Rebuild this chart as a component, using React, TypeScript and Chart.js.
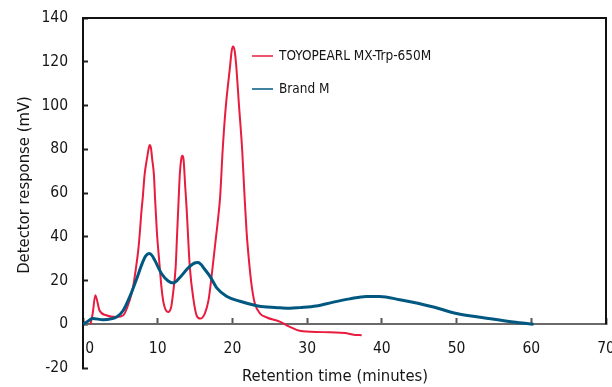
import React, { useEffect, useRef } from "react";
import { Chart, registerables } from "chart.js";

Chart.register(...registerables);

// ---- data ----
const X_TICKS = [0, 10, 20, 30, 40, 50, 60, 70];
const Y_TICKS = [-20, 0, 20, 40, 60, 80, 100, 120, 140];
const SERIES_NAMES = ["TOYOPEARL MX-Trp-650M", "Brand M"];
const X_TITLE = "Retention time (minutes)";
const Y_TITLE = "Detector response (mV)";

const toyoTime = [1.0, 1.3, 1.65, 2.2, 3.1, 4.5, 5.4, 6.25, 6.7, 7.1, 7.4, 7.6, 7.8, 8.0, 8.25, 8.6, 8.8, 8.93, 9.1, 9.25, 9.5, 9.65, 9.9, 10.2, 10.5, 10.8, 11.4, 11.8, 12.05, 12.4, 12.6, 12.8, 12.95, 13.15, 13.3, 13.45, 13.7, 13.85, 14.3, 14.8, 15.2, 15.7, 16.3, 16.8, 17.2, 17.7, 18.1, 18.35, 18.7, 19.1, 19.7, 19.9, 20.08, 20.3, 20.5, 20.9, 21.3, 21.6, 21.9, 22.3, 22.6, 23.0, 23.7, 24.6, 26.4, 27.7, 29, 32, 35.6, 36.2, 37.3];
const toyoSignal = [0, 5, 13.3, 6.4, 4.1, 3.3, 4.1, 11, 17, 26, 34, 41.6, 50.7, 58, 68.5, 76.5, 80.5, 82, 80.5, 75.8, 68, 57, 41.6, 29, 17, 9.5, 5.6, 7.9, 14, 26, 41.6, 57, 68, 75.5, 77, 75.5, 62, 54, 26, 11, 4.1, 2.6, 4.9, 11, 21.6, 36.8, 49, 58, 80, 99, 118.5, 125, 127, 125, 118.5, 99, 80, 60, 42, 26, 17, 9.5, 4.9, 3.1, 1.1, -1.2, -3, -3.6, -4.3, -4.8, -5];

const brandTime = [0, 0.5, 1.3, 2.7, 4.5, 5.4, 6.25, 7.1, 8.0, 8.4, 8.85, 9.2, 9.6, 10.5, 11.4, 12.1, 13, 14, 14.7, 15.05, 15.4, 15.8, 16.2, 17, 17.9, 19.2, 21, 23.25, 24.6, 26.4, 27.7, 29, 31.2, 33.5, 35.7, 37.9, 39.7, 42.4, 46.9, 50, 53.6, 57.6, 60.3];
const brandSignal = [0, 1, 2.6, 2.1, 3.3, 6.4, 12.5, 20, 28.5, 31.3, 32.3, 31.6, 29.3, 23.2, 19.8, 18.9, 21.5, 25.5, 27.5, 28.1, 28.2, 27.3, 25.5, 21.9, 16.6, 12.8, 10.5, 8.5, 7.9, 7.5, 7.3, 7.6, 8.3, 10.1, 11.6, 12.7, 12.7, 11.2, 7.9, 4.9, 3.0, 1, 0];

const RED = "rgb(232, 28, 62)";
const BLUE = "rgb(0, 88, 128)";
const FONT = '"DejaVu Sans Condensed", "Liberation Sans Narrow", "Liberation Sans", sans-serif';
const TEXT = "#151515";

const decorPlugin = {
  id: "decor",
  afterDraw(chart: any) {
    const { ctx, chartArea: a, scales } = chart;
    const y0 = scales.y.getPixelForValue(0);
    ctx.save();
    // top + right frame
    ctx.strokeStyle = "#111";
    ctx.lineWidth = 2;
    ctx.beginPath();
    ctx.moveTo(a.left, a.top);
    ctx.lineTo(a.right, a.top);
    ctx.lineTo(a.right, y0);
    ctx.stroke();

    // legend
    ctx.font = `13.5px ${FONT}`;
    ctx.textAlign = "left";
    ctx.textBaseline = "middle";
    chart.data.datasets.forEach((ds: any, i: number) => {
      const ly = 56 + i * 33;
      ctx.strokeStyle = ds.borderColor;
      ctx.lineWidth = 1.5;
      ctx.beginPath();
      ctx.moveTo(252, ly);
      ctx.lineTo(273, ly);
      ctx.stroke();
      ctx.fillStyle = TEXT;
      ctx.fillText(ds.label, 279, ly + 0.5);
    });

    // axis titles
    ctx.font = `16.5px ${FONT}`;
    ctx.fillStyle = TEXT;
    ctx.textAlign = "center";
    ctx.textBaseline = "middle";
    ctx.fillText(X_TITLE, 335, 377);
    ctx.translate(25, 185);
    ctx.rotate(-Math.PI / 2);
    ctx.fillText(Y_TITLE, 0, 0);
    ctx.restore();
  },
};

export default function App() {
  const ref = useRef<HTMLCanvasElement | null>(null);

  useEffect(() => {
    if (!ref.current) return;
    const chart = new Chart(ref.current, {
      type: "line",
      data: {
        datasets: [
          {
            label: SERIES_NAMES[0],
            data: toyoTime.map((t, i) => ({ x: t, y: toyoSignal[i] })),
            borderColor: RED,
            backgroundColor: RED,
            borderWidth: 2,
            pointRadius: 0,
            cubicInterpolationMode: "monotone",
            order: 2,
          },
          {
            label: SERIES_NAMES[1],
            data: brandTime.map((t, i) => ({ x: t, y: brandSignal[i] })),
            borderColor: BLUE,
            backgroundColor: BLUE,
            borderWidth: 3,
            pointRadius: 0,
            cubicInterpolationMode: "monotone",
            order: 1,
          },
        ],
      },
      options: {
        responsive: false,
        animation: false,
        devicePixelRatio: 1,
        layout: { padding: { left: 0, top: 18, right: 6, bottom: 19 } },
        plugins: {
          legend: { display: false },
          tooltip: { enabled: false },
        },
        scales: {
          x: {
            type: "linear",
            position: { y: 0 } as any,
            min: 0,
            max: 70,
            afterBuildTicks: (s: any) => {
              s.ticks = X_TICKS.map((v) => ({ value: v }));
            },
            afterFit: (s: any) => {
              s.height = 0;
              s.paddingLeft = 0;
              s.paddingRight = 0;
            },
            grid: {
              drawOnChartArea: false,
              drawTicks: true,
              tickLength: -7,
              color: "#555",
              tickWidth: 2,
            },
            border: { display: true, color: "#6a6a6a", width: 2 },
            ticks: {
              padding: 22,
              maxRotation: 0,
              autoSkip: false,
              color: TEXT,
              font: { family: FONT, size: 15.5 },
              callback: (v: any) => (Number(v) === 0 ? "   0" : String(v)),
            },
          },
          y: {
            type: "linear",
            position: "left",
            min: -20,
            max: 140,
            afterBuildTicks: (s: any) => {
              s.ticks = Y_TICKS.map((v) => ({ value: v }));
            },
            afterFit: (s: any) => {
              s.width = 83;
              s.paddingTop = 0;
              s.paddingBottom = 0;
            },
            grid: {
              drawOnChartArea: false,
              drawTicks: true,
              tickLength: -5,
              color: "#222",
              tickWidth: 2,
            },
            border: { display: true, color: "#111", width: 2 },
            ticks: {
              padding: 20,
              color: TEXT,
              font: { family: FONT, size: 15.5 },
            },
          },
        },
      },
      plugins: [decorPlugin],
    } as any);
    return () => chart.destroy();
  }, []);

  return (
    <div style={{ position: "absolute", left: 0, top: 0, width: 612, height: 387, background: "#fff" }}>
      <canvas ref={ref} width={612} height={387} />
    </div>
  );
}
